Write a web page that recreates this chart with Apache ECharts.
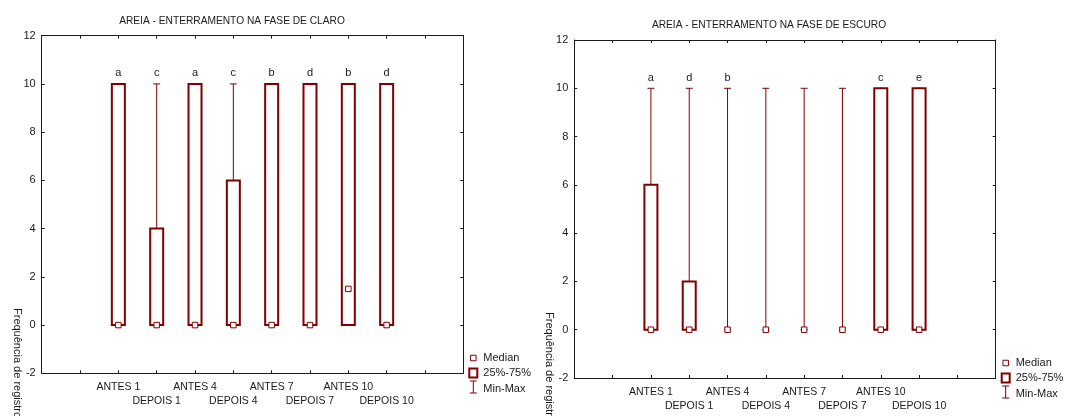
<!DOCTYPE html>
<html><head><meta charset="utf-8">
<script src="https://cdn.jsdelivr.net/npm/echarts@6/dist/echarts.min.js"></script>
<style>html,body{margin:0;padding:0;background:#fff}#c{width:1067px;height:416px}</style>
</head><body><div id="c"></div>
<script>
// ---- data ----
const categories = ['ANTES 1','DEPOIS 1','ANTES 4','DEPOIS 4','ANTES 7','DEPOIS 7','ANTES 10','DEPOIS 10'];
const titleClaro = 'AREIA - ENTERRAMENTO NA FASE DE CLARO';
const titleEscuro = 'AREIA - ENTERRAMENTO NA FASE DE ESCURO';
const yAxisName = 'Frequência de registros';
const legendLabels = ['Median', '25%-75%', 'Min-Max'];

const claroMin    = [0, 0, 0, 0, 0, 0, 0, 0];
const claroQ1     = [0, 0, 0, 0, 0, 0, 0, 0];
const claroMedian = [0, 0, 0, 0, 0, 0, 1.5, 0];
const claroQ3     = [10, 4, 10, 6, 10, 10, 10, 10];
const claroMax    = [10, 10, 10, 10, 10, 10, 10, 10];
const claroLetters = ['a', 'c', 'a', 'c', 'b', 'd', 'b', 'd'];

const escuroMin    = [0, 0, 0, 0, 0, 0, 0, 0];
const escuroQ1     = [0, 0, 0, 0, 0, 0, 0, 0];
const escuroMedian = [0, 0, 0, 0, 0, 0, 0, 0];
const escuroQ3     = [6, 2, 0, 0, 0, 0, 10, 10];
const escuroMax    = [10, 10, 10, 10, 10, 10, 10, 10];
const escuroLetters = ['a', 'd', 'b', '', '', '', 'c', 'e'];

const yMin = -2, yMax = 12, yStep = 2;

// ---- styling ----
const COL = '#800000';
const AX = '#1a1a1a';
const TXT = '#1a1a1a';
const FONT = 'Liberation Sans, Arial, sans-serif';
const SLOT_OFFSET = 2, SLOT_COUNT = 11;

function buildData(mn, q1, med, q3, mx) {
  return categories.map((c, i) => [i + SLOT_OFFSET, mn[i], q1[i], med[i], q3[i], mx[i]]);
}

function makeRender(letters) {
  return function (params, api) {
    const x = api.value(0);
    const vQ1 = api.value(2), vQ3 = api.value(4);
    const pMin = api.coord([x, api.value(1)]);
    const pQ1 = api.coord([x, vQ1]);
    const pMed = api.coord([x, api.value(3)]);
    const pQ3 = api.coord([x, vQ3]);
    const pMax = api.coord([x, api.value(5)]);
    const cx = pMed[0];
    const ch = [];
    ch.push({type: 'line', shape: {x1: cx, y1: pMin[1], x2: cx, y2: pMax[1]}, style: {stroke: COL, lineWidth: 1}});
    ch.push({type: 'line', shape: {x1: cx - 3.5, y1: pMax[1], x2: cx + 3.5, y2: pMax[1]}, style: {stroke: COL, lineWidth: 1}});
    ch.push({type: 'line', shape: {x1: cx - 3.5, y1: pMin[1], x2: cx + 3.5, y2: pMin[1]}, style: {stroke: COL, lineWidth: 1}});
    if (vQ3 > vQ1) {
      ch.push({type: 'rect', shape: {x: cx - 6.5, y: pQ3[1], width: 13, height: pQ1[1] - pQ3[1]},
        style: {fill: '#fff', stroke: COL, lineWidth: 2}});
    }
    ch.push({type: 'rect', shape: {x: cx - 2.75, y: pMed[1] - 2.75, width: 5.5, height: 5.5},
      style: {fill: '#fff', stroke: COL, lineWidth: 1}});
    const lt = letters[params.dataIndex];
    if (lt) {
      ch.push({type: 'text', style: {text: lt, x: cx, y: pMax[1] - 10.7, textAlign: 'center', align: 'center',
        textVerticalAlign: 'middle', verticalAlign: 'middle', font: '11px ' + FONT, fill: TXT}});
    }
    return {type: 'group', children: ch};
  };
}

const grids = [
  {left: 41.7, top: 35.7, width: 421.6, height: 337.6},
  {left: 574.3, top: 40, width: 421.4, height: 338}
];

function labelFmt(v) {
  const i = Math.round(v) - SLOT_OFFSET;
  if (i < 0 || i >= categories.length) return '';
  return i % 2 === 0 ? categories[i] : '\n' + categories[i];
}

const xAxes = [], yAxes = [];
grids.forEach((g, gi) => {
  ['bottom', 'top'].forEach((pos, k) => {
    xAxes.push({
      gridIndex: gi, type: 'value', position: pos, min: 0, max: SLOT_COUNT, interval: 1,
      axisLine: {show: true, onZero: false, lineStyle: {color: AX, width: 1}},
      axisTick: {show: true, inside: true, length: 3, lineStyle: {color: AX}},
      splitLine: {show: false},
      axisLabel: k === 0 ? {show: true, formatter: labelFmt, fontSize: 10.5, fontFamily: FONT, color: TXT,
        lineHeight: 14, margin: 7} : {show: false}
    });
  });
  ['left', 'right'].forEach((pos, k) => {
    yAxes.push({
      gridIndex: gi, type: 'value', position: pos, min: yMin, max: yMax, interval: yStep,
      axisLine: {show: true, onZero: false, lineStyle: {color: AX, width: 1}},
      axisTick: {show: true, inside: true, length: 3, lineStyle: {color: AX}},
      splitLine: {show: false},
      axisLabel: k === 0 ? {show: true, fontSize: 11, fontFamily: FONT, color: TXT, margin: 6} : {show: false}
    });
  });
});

const series = [
  {type: 'custom', xAxisIndex: 0, yAxisIndex: 0, renderItem: makeRender(claroLetters),
    data: buildData(claroMin, claroQ1, claroMedian, claroQ3, claroMax), clip: false, silent: true},
  {type: 'custom', xAxisIndex: 2, yAxisIndex: 2, renderItem: makeRender(escuroLetters),
    data: buildData(escuroMin, escuroQ1, escuroMedian, escuroQ3, escuroMax), clip: false, silent: true}
];

function legendGraphics(x0, y0) {
  // x0: legend icon center x; y0: center of first row
  return [
    {type: 'rect', shape: {x: x0 - 2.75, y: y0 - 2.75, width: 5.5, height: 5.5}, style: {fill: '#fff', stroke: COL, lineWidth: 1}},
    {type: 'rect', shape: {x: x0 - 4, y: y0 + 10.5, width: 8, height: 9}, style: {fill: '#fff', stroke: COL, lineWidth: 2}},
    {type: 'line', shape: {x1: x0, y1: y0 + 23, x2: x0, y2: y0 + 35}, style: {stroke: COL, lineWidth: 1}},
    {type: 'line', shape: {x1: x0 - 3.5, y1: y0 + 23, x2: x0 + 3.5, y2: y0 + 23}, style: {stroke: COL, lineWidth: 1}},
    {type: 'line', shape: {x1: x0 - 3.5, y1: y0 + 35, x2: x0 + 3.5, y2: y0 + 35}, style: {stroke: COL, lineWidth: 1}},
    {type: 'text', style: {text: legendLabels[0], x: x0 + 10, y: y0, textVerticalAlign: 'middle', verticalAlign: 'middle', font: '11px ' + FONT, fill: TXT}},
    {type: 'text', style: {text: legendLabels[1], x: x0 + 10, y: y0 + 15, textVerticalAlign: 'middle', verticalAlign: 'middle', font: '11px ' + FONT, fill: TXT}},
    {type: 'text', style: {text: legendLabels[2], x: x0 + 10, y: y0 + 31, textVerticalAlign: 'middle', verticalAlign: 'middle', font: '11px ' + FONT, fill: TXT}}
  ];
}

const graphic = [
  {type: 'text', style: {text: titleClaro, x: 232, y: 21, textAlign: 'center', align: 'center', textVerticalAlign: 'middle', verticalAlign: 'middle', font: '10.2px ' + FONT, fill: TXT}},
  {type: 'text', style: {text: titleEscuro, x: 769, y: 25.5, textAlign: 'center', align: 'center', textVerticalAlign: 'middle', verticalAlign: 'middle', font: '10.2px ' + FONT, fill: TXT}},
  {type: 'text', x: 16.7, y: 308, rotation: -Math.PI / 2, style: {text: yAxisName, x: 0, y: 0, textAlign: 'left', align: 'left', textVerticalAlign: 'middle', verticalAlign: 'middle', font: '11px ' + FONT, fill: TXT}},
  {type: 'text', x: 549, y: 312, rotation: -Math.PI / 2, style: {text: yAxisName, x: 0, y: 0, textAlign: 'left', align: 'left', textVerticalAlign: 'middle', verticalAlign: 'middle', font: '11px ' + FONT, fill: TXT}}
].concat(legendGraphics(473.3, 358)).concat(legendGraphics(1005.7, 363));

const chart = echarts.init(document.getElementById('c'), null, {renderer: 'canvas'});
chart.setOption({
  animation: false,
  backgroundColor: '#fff',
  grid: grids,
  xAxis: xAxes,
  yAxis: yAxes,
  series: series,
  graphic: graphic
});
</script>
</body></html>
